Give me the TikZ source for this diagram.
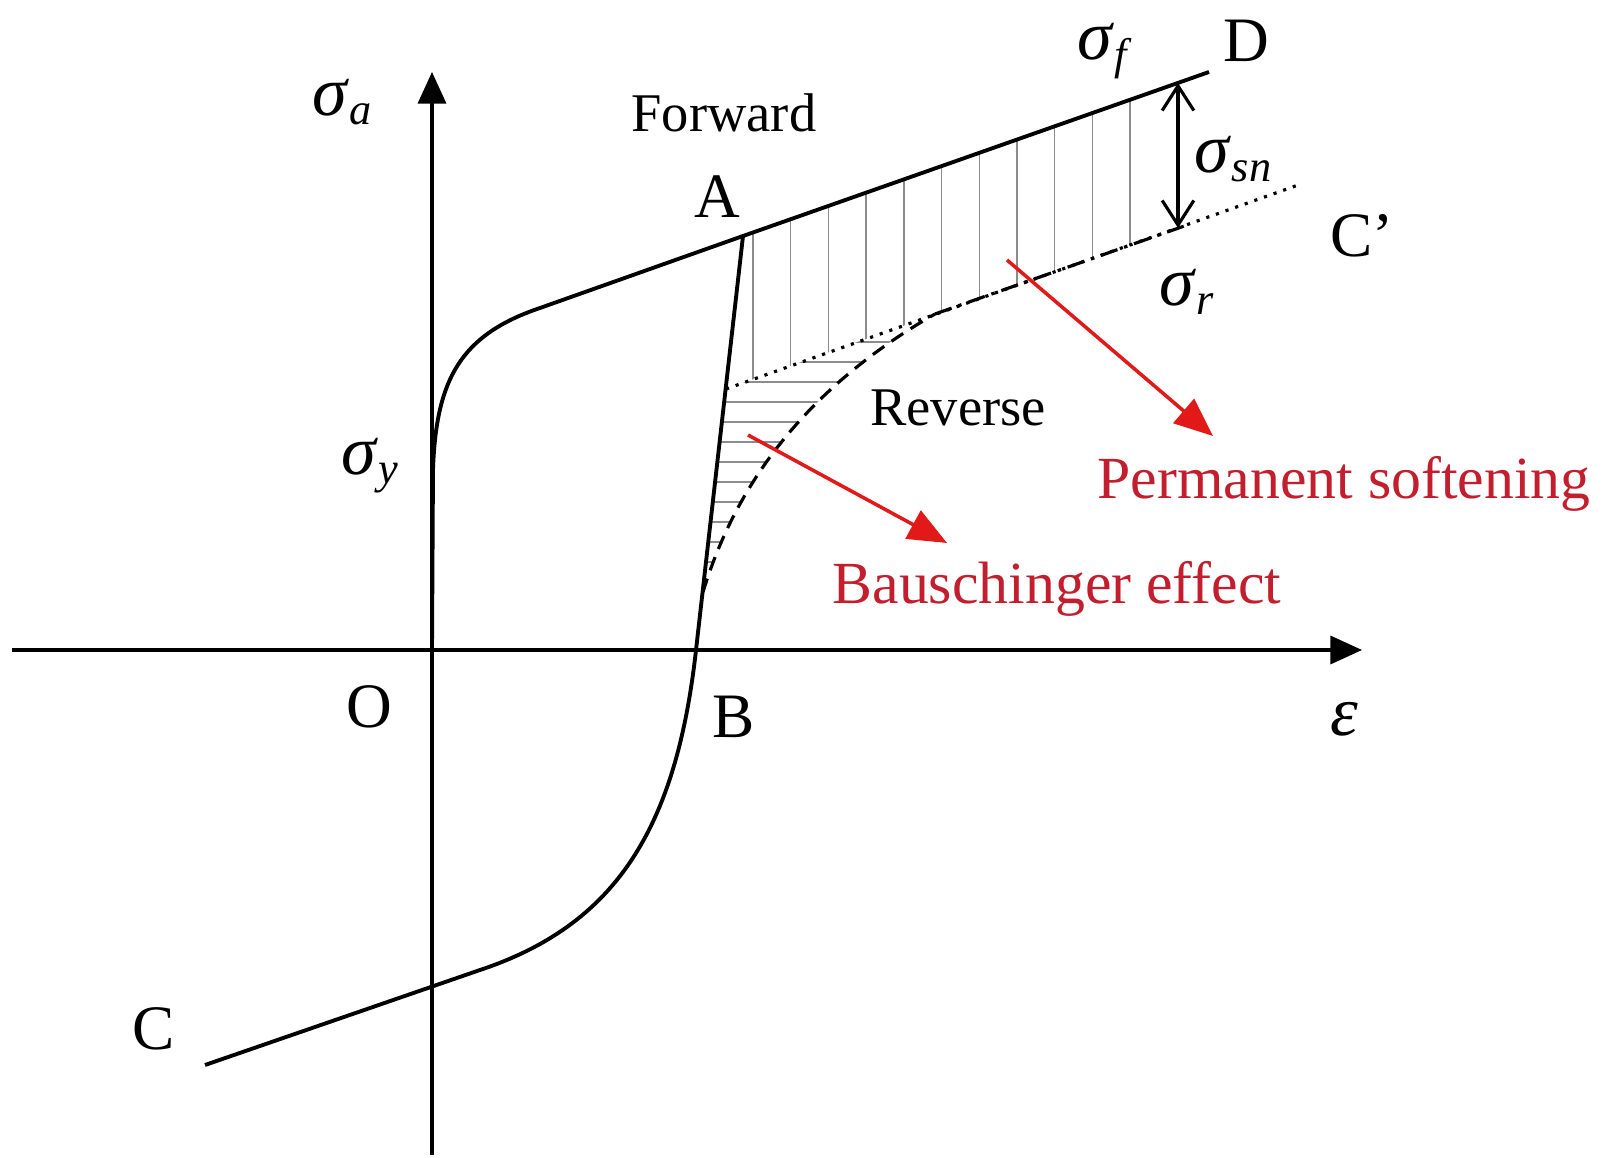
\documentclass[tikz,border=0pt]{standalone}
\usepackage{fontspec}
\setmainfont{Liberation Serif}
\usepackage[dvipsnames]{xcolor}
\usepackage{tikz}
\usetikzlibrary{arrows.meta}
\definecolor{arrred}{RGB}{225,25,25}
\definecolor{txtred}{RGB}{195,30,45}
\newcommand{\sgm}[1]{{\fontsize{20}{20}\selectfont\textit{σ}}\textsubscript{\textit{#1}}}

\begin{document}
\begin{tikzpicture}[x=0.01cm, y=-0.01cm, font=\fontsize{18}{20}\selectfont,
  curve/.style={line width=1.1pt},
  axis/.style={line width=0.9pt, -{Triangle[length=9pt,width=8pt]}},
  hatch/.style={black!45, line width=0.4pt},
  redarrow/.style={arrred, line width=1pt, -{Triangle[length=11pt,width=9pt]}},
  redlbl/.style={txtred, font=\fontsize{17}{20}\selectfont},
  lbl/.style={font=\fontsize{15.5}{18}\selectfont}]
  \useasboundingbox (0,0) rectangle (1606,1158);
  % points of the loop, in pixels of the figure (y grows downwards)
  \coordinate (O) at (432,650);
  \coordinate (A) at (743,236);
  \coordinate (B) at (696,650);
  \coordinate (D) at (1209,72);
  \coordinate (C) at (205,1065);
  \coordinate (P) at (726,389);   % start of the dotted line on AB
  \coordinate (Cp) at (1301,184);
  \coordinate (Q) at (703,592);   % start of the reverse curve
  \coordinate (M) at (935,314);
  \coordinate (R) at (1190,224);
  \coordinate (Dt) at (1178,83);
  \coordinate (Db) at (1178,228);
  \coordinate (xs) at (12,650);
  \coordinate (xe) at (1362,650);
  \coordinate (ys) at (432,1155);
  \coordinate (ye) at (432,72);

  % hatching
  \begin{scope}
    \clip (A) -- (Dt) -- (Db) -- (P) -- cycle;
    \foreach \k in {0,...,10}
      { \draw[hatch] ({753+37.7*\k},40) -- ({753+37.7*\k},420); }
  \end{scope}
  \begin{scope}
    \clip (P) -- (Q) .. controls (740,470) and (820,380) .. (M) -- cycle;
    \foreach \y in {342,362,...,582}
      { \draw[hatch] (690,\y) -- (950,\y); }
  \end{scope}

  % axes
  \draw[axis] (xs) -- (xe);
  \draw[axis] (ys) -- (ye);

  % forward, unloading and reverse curves
  \draw[curve] (O) -- (433,470) .. controls (436,380) and (460,335) .. (540,308) -- (A) -- (D);
  \draw[curve] (A) -- (B) .. controls (676,830) and (615,925) .. (480,970) -- (C);
  \draw[line width=0.9pt, dotted] (P) -- (Cp);
  \draw[line width=0.9pt, dash pattern=on 4pt off 2.5pt] (Q) .. controls (740,470) and (820,380) .. (M);
  \draw[line width=0.9pt, dash pattern=on 5pt off 2pt on 1pt off 2pt] (M) -- (R);
  \draw[line width=0.9pt, {Straight Barb[length=7pt,width=9pt]}-{Straight Barb[length=7pt,width=9pt]}] (Dt) -- (Db);

  % red arrows
  \draw[redarrow] (748,435) -- (947,543);
  \draw[redarrow] (1007,260) -- (1213,436);

  % labels
  \node (sa) at (343,102) {\sgm{a}};
  \node (sy) at (371,466) {\sgm{y}};
  \node (sf) at (1106,51) {\sgm{f}};
  \node (ssn) at (1234,159) {\sgm{sn}};
  \node (sr) at (1188,292) {\sgm{r}};
  \node (eps) at (1344,719) {\fontsize{20}{20}\selectfont\textit{ε}};
  \node (lO) at (369,707) {O};
  \node (lA) at (717,197) {A};
  \node (lB) at (734,717) {B};
  \node (lC) at (154,1029) {C};
  \node (lD) at (1246,41) {D};
  \node (lCp) at (1362,236) {C’};
  \node[lbl] (fwd) at (724,113) {Forward};
  \node[lbl] (rev) at (958,408) {Reverse};
  \node[redlbl] (perm) at (1344,484) {Permanent softening};
  \node[redlbl] (baus) at (1057,589) {Bauschinger effect};
\end{tikzpicture}
\end{document}
